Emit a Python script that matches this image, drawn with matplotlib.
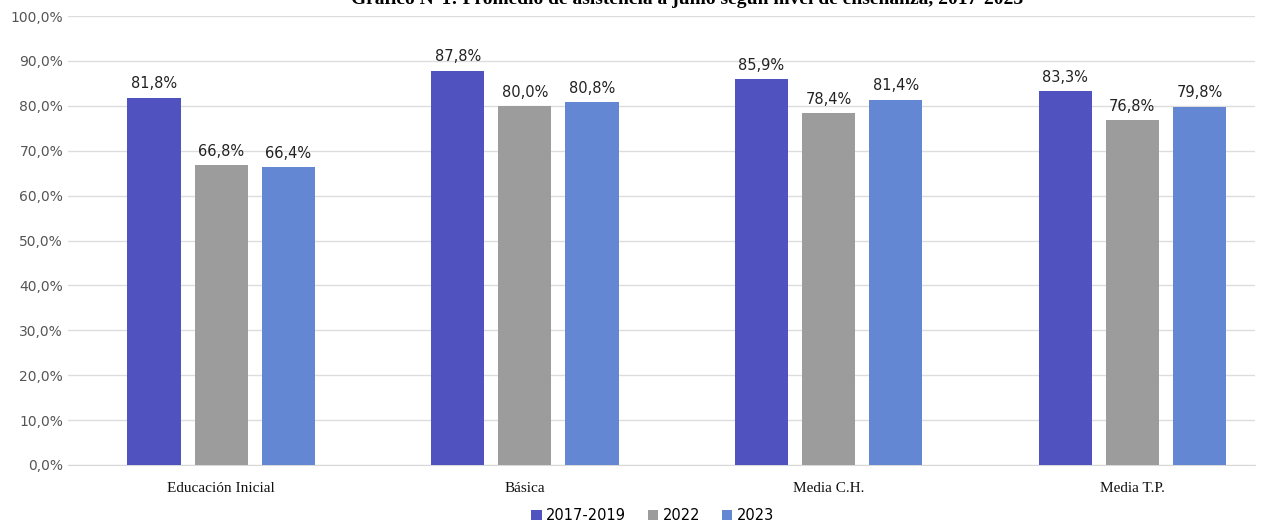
import matplotlib.pyplot as plt
import numpy as np

categories = ["Educación Inicial", "Básica", "Media C.H.", "Media T.P."]
series = ["2017-2019", "2022", "2023"]
v_2017_2019 = [81.8, 87.8, 85.9, 83.3]
v_2022 = [66.8, 80.0, 78.4, 76.8]
v_2023 = [66.4, 80.8, 81.4, 79.8]
colors = ["#5053BF", "#9C9C9C", "#6387D3"]

title = "Gráfico N°1: Promedio de asistencia a junio según nivel de enseñanza, 2017-2023"

fig = plt.figure(figsize=(12.72, 5.28), dpi=100)
ax = fig.add_axes([68 / 1272, 63 / 528, (1255 - 68) / 1272, 449 / 528])

x = np.arange(len(categories))
width = 0.175
offset = 0.221
for i, (vals, name) in enumerate(zip([v_2017_2019, v_2022, v_2023], series)):
    pos = x + (i - 1) * offset
    ax.bar(pos, vals, width, color=colors[i], label=name, zorder=3)
    for p, v in zip(pos, vals):
        ax.text(p, v + 1.4, f"{v:.1f}%".replace(".", ","), ha="center", va="bottom",
                fontsize=10.5, color="#222222", family="DejaVu Sans")

ax.set_xlim(-0.504, 3.404)
ax.set_ylim(0, 100)
ax.set_yticks(np.arange(0, 101, 10))
ax.set_yticklabels([f"{t:.1f}%".replace(".", ",") for t in np.arange(0, 101, 10)],
                   fontsize=10, color="#555555")
ax.set_xticks(x)
ax.set_xticklabels(categories, fontsize=11, family="Liberation Serif", color="#111111")
ax.tick_params(axis="both", length=0)
ax.tick_params(axis="x", pad=12)
ax.grid(axis="y", color="#DDDDDD", linewidth=1, zorder=0)
for s in ["top", "right", "left"]:
    ax.spines[s].set_visible(False)
ax.spines["bottom"].set_color("#D9D9D9")

fig.legend(loc="lower center", bbox_to_anchor=(0.513, -0.016), ncol=3, frameon=False,
           fontsize=10.5, handlelength=0.7, handleheight=0.7, handletextpad=0.3,
           columnspacing=1.5)
fig.text(0.54, 1.0, title, ha="center", va="center", fontsize=14, fontweight="bold",
         family="Liberation Serif")

plt.savefig("out.png", dpi=100)
plt.close()
